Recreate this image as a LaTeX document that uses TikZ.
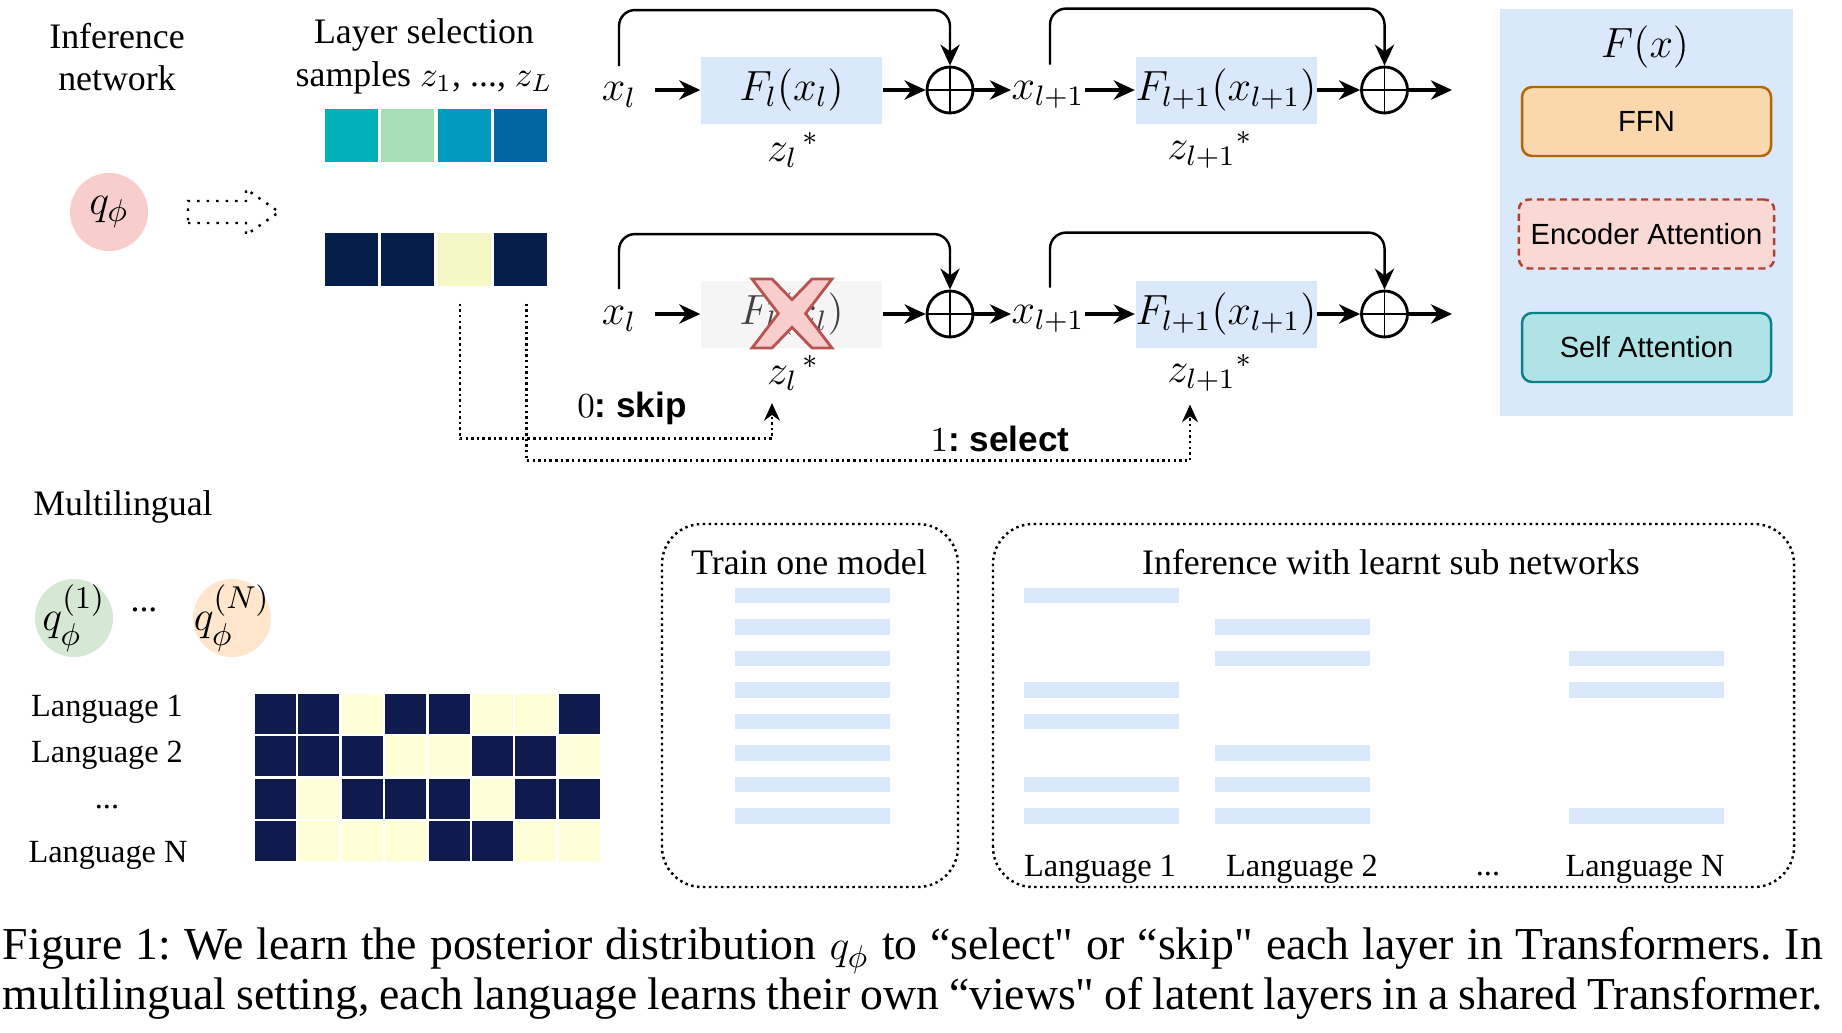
\documentclass[tikz,border=0pt]{standalone}
\usepackage{fontspec}
\setmainfont{Liberation Serif}
\newfontfamily\helv{Liberation Sans}
\usepackage{amsmath}
\usepackage{tikz}
\usetikzlibrary{arrows.meta, positioning}
\definecolor{layerblue}{HTML}{DAE8FC}
\definecolor{skipgray}{HTML}{F5F5F5}
\definecolor{crossfill}{HTML}{F8CECC}
\definecolor{crossline}{HTML}{B85450}
\definecolor{qpink}{HTML}{F8CECC}
\definecolor{qgreen}{HTML}{D5E8D4}
\definecolor{qorange}{HTML}{FFE6CC}
\definecolor{ffnfill}{HTML}{FAD7AC}
\definecolor{ffnline}{HTML}{B46504}
\definecolor{encfill}{HTML}{FAD9D5}
\definecolor{encline}{HTML}{AE4132}
\definecolor{selffill}{HTML}{B0E3E6}
\definecolor{selfline}{HTML}{0E8088}
\definecolor{zteal}{HTML}{00B1B9}
\definecolor{zmint}{HTML}{A8DEB5}
\definecolor{zcyan}{HTML}{009BBF}
\definecolor{zblue}{HTML}{0067A3}
\definecolor{znavy}{HTML}{051E4A}
\definecolor{zcream}{HTML}{F3F8C4}
\definecolor{gridcell1}{HTML}{0F1B4D}
\definecolor{gridcell0}{HTML}{FFFFD7}
\newcommand{\headfont}{\fontsize{10.2}{12.2}\selectfont}
\newcommand{\langfont}{\fontsize{9.2}{11}\selectfont}
\newcommand{\mlabelfont}{\fontsize{12}{14}\selectfont}
\newcommand{\boxfont}{\helv\fontsize{8.3}{10}\selectfont}
\newcommand{\closeq}{\textquotedbl{}}

\begin{document}
\frenchspacing
\begin{tikzpicture}[>=Stealth,
    flow/.style={-{Stealth[length=6pt, width=5.5pt]}, line width=0.9pt},
    skipline/.style={-{Stealth[length=6pt, width=5.5pt]}, line width=0.7pt, rounded corners=0.16cm},
    layer/.style={fill=layerblue, minimum width=1.81cm, minimum height=0.67cm, inner sep=0, font=\mlabelfont},
    plus/.style={circle, draw, line width=0.8pt, minimum size=0.46cm, inner sep=0},
    mlabel/.style={inner sep=0, font=\mlabelfont},
    sample/.style={minimum width=0.53cm, minimum height=0.53cm, inner sep=0},
    qnode/.style={circle, minimum size=0.78cm, inner sep=0},
    part/.style={draw, rounded corners=0.1cm, line width=0.7pt, minimum width=2.49cm, minimum height=0.69cm, font=\boxfont},
    pick/.style={dash pattern=on 0.7pt off 0.9pt, line width=0.7pt, -{Stealth[length=5pt, width=4.5pt]}},
    group/.style={dash pattern=on 0.7pt off 1pt, line width=0.7pt, rounded corners=0.4cm},
    bar/.style={fill=layerblue, minimum width=1.55cm, minimum height=0.155cm, inner sep=0},
    choice/.style={font=\fontsize{10}{12}\selectfont}]
    \useasboundingbox (0,0) rectangle (18.42,10.32);

    \node[font=\headfont, align=center] (infnet) at (1.17, 9.75) {Inference\\network};
    \node[font=\headfont, align=center] (laysel) at (4.24, 9.76) {Layer selection\\samples $z_1$, ..., $z_L$};
    \node[qnode, fill=qpink, label={[font=\fontsize{12.5}{14}\selectfont]center:$q_\phi$}] (q) at (1.09, 8.20) {};
    \draw[dotted, line width=0.7pt] (1.88, 8.09) -- (2.46, 8.09) -- (2.46, 7.97) -- (2.79, 8.20)
        -- (2.46, 8.43) -- (2.46, 8.31) -- (1.88, 8.31) -- cycle;
    \foreach \col [count=\i] in {zteal, zmint, zcyan, zblue}
        \node[sample, fill=\col] (ts\i) at ({3.51+0.565*(\i-1)}, 8.965) {};
    \foreach \col [count=\i] in {znavy, znavy, zcream, znavy}
        \node[sample, fill=\col] (bs\i) at ({3.51+0.565*(\i-1)}, 7.725) {};

    \node[mlabel] (xa) at (6.19, 9.37) {$x_l$};
    \node[layer] (fa) at (7.915, 9.42) {$F_l(x_l)$};
    \node[plus] (pa) at (9.50, 9.42) {};
    \node[mlabel] (xb) at (10.48, 9.37) {$x_{l+1}$};
    \node[layer] (fb) at (12.26, 9.42) {$F_{l+1}(x_{l+1})$};
    \node[plus] (pb) at (13.845, 9.42) {};
    \coordinate (outa) at (14.52, 9.42);
    \node[mlabel] (za) at (7.93, 8.82) {$z_l{}^{\,*}$};
    \node[mlabel] (zb) at (12.10, 8.82) {$z_{l+1}{}^{*}$};
    \draw (pa.north) -- (pa.south) (pa.west) -- (pa.east);
    \draw (pb.north) -- (pb.south) (pb.west) -- (pb.east);
    \draw[flow, shorten <=5pt] (xa.east |- fa) -- (fa.west);
    \draw[flow] (fa.east) -- (pa.west);
    \draw[flow] (pa.east) -- (xb.west |- pa);
    \draw[flow] (xb.east |- fb) -- (fb.west);
    \draw[flow] (fb.east) -- (pb.west);
    \draw[flow] (pb.east) -- (outa);
    \draw[skipline] ([yshift=0.16cm]xa.north) -- ++(0,0.56) -| (pa.north);
    \draw[skipline] ([xshift=0.02cm, yshift=0.16cm]xb.north) -- ++(0,0.56) -| (pb.north);

    \node[mlabel] (xc) at (6.19, 7.13) {$x_l$};
    \node[layer, fill=skipgray, text=black!75] (fc) at (7.915, 7.18) {$F_l(x_l)$};
    \node[plus] (pc) at (9.50, 7.18) {};
    \node[mlabel] (xd) at (10.48, 7.13) {$x_{l+1}$};
    \node[layer] (fd) at (12.26, 7.18) {$F_{l+1}(x_{l+1})$};
    \node[plus] (pd) at (13.845, 7.18) {};
    \coordinate (outc) at (14.52, 7.18);
    \node[mlabel] (zc) at (7.93, 6.59) {$z_l{}^{\,*}$};
    \node[mlabel] (zd) at (12.10, 6.59) {$z_{l+1}{}^{*}$};
    \begin{scope}[shift={(7.52,6.84)}, x=0.80cm, y=0.69cm]
        \draw[fill=crossfill, draw=crossline, line width=0.8pt, line join=miter]
            (0,1) -- (0.25,1) -- (0.5,0.7) -- (0.75,1) -- (1,1) -- (0.67,0.5) -- (1,0)
            -- (0.75,0) -- (0.5,0.3) -- (0.25,0) -- (0,0) -- (0.33,0.5) -- cycle;
    \end{scope}
    \draw (pc.north) -- (pc.south) (pc.west) -- (pc.east);
    \draw (pd.north) -- (pd.south) (pd.west) -- (pd.east);
    \draw[flow, shorten <=5pt] (xc.east |- fc) -- (fc.west);
    \draw[flow] (fc.east) -- (pc.west);
    \draw[flow] (pc.east) -- (xd.west |- pc);
    \draw[flow] (xd.east |- fd) -- (fd.west);
    \draw[flow] (fd.east) -- (pd.west);
    \draw[flow] (pd.east) -- (outc);
    \draw[skipline] ([yshift=0.17cm]xc.north) -- ++(0,0.55) -| (pc.north);
    \draw[skipline] ([xshift=0.02cm, yshift=0.17cm]xd.north) -- ++(0,0.55) -| (pd.north);

    \draw[pick] ([xshift=-0.04cm, yshift=-0.17cm]bs3.south) -- ++(0,-1.35) -| ([xshift=-0.21cm, yshift=-0.12cm]zc.south);
    \draw[pick] ([xshift=0.06cm, yshift=-0.17cm]bs4.south) -- ++(0,-1.57) -| ([xshift=-0.20cm, yshift=-0.12cm]zd.south);
    \node[choice] (skiplbl) at (6.32, 6.24) {$0$\helv\bfseries: skip};
    \node[choice] (selectlbl) at (10.00, 5.93) {$1$\helv\bfseries: select};

    \fill[layerblue] (15.00, 6.16) rectangle (17.93, 10.23);
    \node[mlabel] (fx) at (16.45, 9.85) {$F(x)$};
    \node[part, fill=ffnfill, draw=ffnline] (ffn) at (16.465, 9.105) {FFN};
    \node[part, fill=encfill, draw=encline, dash pattern=on 2pt off 1.3pt] (enc) at (16.465, 7.98) {Encoder Attention};
    \node[part, fill=selffill, draw=selfline] (selfatt) at (16.465, 6.845) {Self Attention};

    \node[font=\headfont] (multi) at (1.23, 5.255) {Multilingual};
    \node[qnode, fill=qgreen, label={[font=\fontsize{12.5}{14}\selectfont]center:$q_\phi^{(1)}$}] (qone) at (0.74, 4.14) {};
    \node[font=\headfont] (qdots) at (1.44, 4.22) {...};
    \node[qnode, fill=qorange, label={[font=\fontsize{12.5}{14}\selectfont]center:$q_\phi^{(N)}$}] (qn) at (2.32, 4.14) {};
    \node[font=\langfont] (lang1) at (1.07, 3.225) {Language 1};
    \node[font=\langfont] (lang2) at (1.07, 2.765) {Language 2};
    \node[font=\langfont] (langdots) at (1.07, 2.245) {...};
    \node[font=\langfont] (langn) at (1.08, 1.765) {Language N};
    \foreach \pattern [count=\r from 0] in {{1,1,0,1,1,0,0,1}, {1,1,1,0,0,1,1,0}, {1,0,1,1,1,0,1,1}, {1,0,0,0,1,1,0,0}}
        \foreach \v [count=\k from 0] in \pattern
            \fill[gridcell\v] ({2.55+0.434*\k}, {3.38-0.4225*\r}) rectangle ++(0.41,-0.40);

    \draw[group] (6.62, 1.45) rectangle (9.58, 5.08);
    \node[font=\headfont] (trainlbl) at (8.09, 4.70) {Train one model};
    \foreach \i in {0,...,7}
        \node[bar] (tb\i) at (8.125, {4.365-0.315*\i}) {};
    \draw[group] (9.93, 1.45) rectangle (17.94, 5.08);
    \node[font=\headfont] (inflbl) at (13.91, 4.70) {Inference with learnt sub networks};
    \foreach \i in {0,3,4,6,7}
        \node[bar] (la\i) at (11.01, {4.365-0.315*\i}) {};
    \foreach \i in {1,2,5,6,7}
        \node[bar] (lb\i) at (12.92, {4.365-0.315*\i}) {};
    \foreach \i in {2,3,7}
        \node[bar] (ln\i) at (16.46, {4.365-0.315*\i}) {};
    \node[font=\langfont] (sub1) at (11.00, 1.63) {Language 1};
    \node[font=\langfont] (sub2) at (13.02, 1.63) {Language 2};
    \node[font=\langfont] (subdots) at (14.88, 1.58) {...};
    \node[font=\langfont] (subn) at (16.45, 1.63) {Language N};

    \node[text width=18.2cm, inner sep=0, align=justify, font=\fontsize{13}{14.1}\selectfont] (caption) at (9.13, 0.585)
        {Figure 1: We learn the posterior distribution $q_\phi$ to “select\closeq{} or “skip\closeq{} each layer in Transformers. In\linebreak
        multilingual setting, each language learns their own “views\closeq{} of latent layers in a shared Transformer.\parfillskip=0pt};
\end{tikzpicture}
\end{document}
